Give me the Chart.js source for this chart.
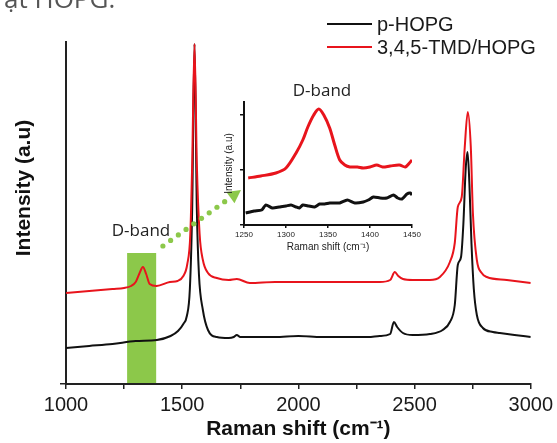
<!DOCTYPE html>
<html><head><meta charset="utf-8">
<script src="https://cdn.jsdelivr.net/npm/chart.js@4.4.0/dist/chart.umd.min.js"></script>
<style>
html,body{margin:0;padding:0;background:#fff;}
#wrap{position:relative;width:557px;height:443px;overflow:hidden;background:#fff;}
#main{position:absolute;left:0;top:0;}
#inset{position:absolute;left:215px;top:70px;}
</style></head><body>
<div id="wrap"><canvas id="main" width="557" height="443"></canvas><canvas id="inset" width="215" height="190"></canvas></div>
<script>
// ---------- main spectrum data ----------
const pHopgShift = [1000,1100,1200,1300,1391,1450,1482,1505,1520,1533,1543,1553,1563,1572,1589,1611,1649,1700,1722,1735,1750,1834,1900,2000,2100,2200,2300,2350,2395,2411,2425,2450,2492,2566,2621,2652,2673,2686,2700,2710,2720,2728,2736,2745,2755,2768,2794,2837,2867,2930,3000];
const pHopgIntensity = [36,38,40,43,44,48,53,60,68,95,175,340,175,110,74,54,47,46,47,49,47,47,47,48,47,47,47,48,50,62,57,51,49,50,54,62,79,119,127,160,215,232,200,140,95,69,56,52,51,49,47];
const tmdShift = [1000,1100,1200,1250,1280,1300,1315,1331,1345,1360,1390,1447,1480,1505,1522,1535,1543,1553,1563,1575,1589,1611,1649,1700,1735,1791,1900,2000,2100,2200,2300,2350,2395,2415,2430,2450,2492,2566,2609,2652,2673,2686,2703,2716,2729,2742,2751,2768,2789,2811,2897,3000];
const tmdIntensity = [91,93,95,96,98,102,110,117,110,100,98,102,103,108,120,150,220,340,220,150,124,111,106,104,105,101,102,102,102,102,102,102,104,112,108,105,104,104,107,122,141,177,187,237,272,237,171,124,111,107,104,101];
const xTickValues = [1000,1250,1500,1750,2000,2250,2500,2750,3000];
const xTickLabels = [1000,1500,2000,2500,3000];
const yTickValues = [0];
const seriesLabels = ['p-HOPG','3,4,5-TMD/HOPG'];
const dBandRange = [1263,1388];
const dBandBoxTop = 131;
const arrowStart = [1417,138];
const arrowEnd = [1753,194];

// ---------- inset (D-band zoom) data ----------
const insetBlackShift = [1252,1262,1271,1276,1284,1292,1300,1306,1312,1316,1320,1327,1334,1340,1346,1352,1358,1364,1373,1382,1392,1398,1404,1412,1420,1428,1433,1438,1444,1448,1450];
const insetBlackIntensity = [12,14,15,20,17,18,19,20,18,17,20,19,18,21,21,22,22,22,25,22,23,25,28,27,27,30,27,26,31,32,30];
const insetRedShift = [1255,1270,1288,1300,1312,1320,1326,1333,1339,1345,1352,1358,1364,1370,1376,1385,1392,1400,1408,1415,1424,1435,1442,1447,1450];
const insetRedIntensity = [47,49,52,57,72,85,98,110,116,110,97,80,65,60,58,58,57,58,60,58,59,60,58,62,65];
const insetXTicks = [1250,1300,1350,1400,1450];
const insetYTicks = [0,55,110];

const BLACK = '#111111', RED = '#e8141c', GREEN = '#8cc84a';
const zip = (xs, ys) => xs.map((v, i) => ({x: v, y: ys[i]}));

const mainDecor = {
  id: 'mainDecor',
  beforeDatasetsDraw(chart) {
    const {ctx, scales: {x, y}} = chart;
    const l = x.getPixelForValue(dBandRange[0]), r = x.getPixelForValue(dBandRange[1]);
    const t = y.getPixelForValue(dBandBoxTop), b = y.getPixelForValue(0) - 1;
    ctx.save();
    ctx.fillStyle = GREEN;
    ctx.fillRect(l, t, r - l, b - t);
    ctx.restore();
  },
  afterDatasetsDraw(chart) {
    const {ctx, scales: {x, y}} = chart;
    ctx.save();
    // dotted arrow
    const p0 = [x.getPixelForValue(arrowStart[0]), y.getPixelForValue(arrowStart[1])];
    const p1 = [x.getPixelForValue(arrowEnd[0]), y.getPixelForValue(arrowEnd[1])];
    const dx = p1[0] - p0[0], dy = p1[1] - p0[1], len = Math.hypot(dx, dy);
    const ux = dx / len, uy = dy / len, headLen = 13, headW = 7;
    ctx.fillStyle = GREEN;
    for (let d = 0; d <= len - headLen - 3; d += 9.5) {
      ctx.beginPath(); ctx.arc(p0[0] + ux * d, p0[1] + uy * d, 2.6, 0, Math.PI * 2); ctx.fill();
    }
    const bx = p1[0] - ux * headLen, by = p1[1] - uy * headLen;
    ctx.beginPath();
    ctx.moveTo(p1[0], p1[1]);
    ctx.lineTo(bx - uy * headW, by + ux * headW);
    ctx.lineTo(bx + uy * headW, by - ux * headW);
    ctx.closePath(); ctx.fill();
    // D-band label
    ctx.fillStyle = '#222';
    ctx.font = '17px "Open Sans", sans-serif';
    ctx.textAlign = 'center'; ctx.textBaseline = 'middle';
    ctx.fillText('D-band', 141, 231);
    // y axis title
    ctx.save();
    ctx.translate(24, 188); ctx.rotate(-Math.PI / 2);
    ctx.font = 'bold 21px "Liberation Sans", Arial, sans-serif';
    ctx.fillStyle = '#111';
    ctx.fillText('Intensity (a.u)', 0, 0);
    ctx.restore();
    // legend
    const legendItems = [{label: seriesLabels[0], color: BLACK, y: 24}, {label: seriesLabels[1], color: RED, y: 47}];
    ctx.font = '20px "Liberation Sans", Arial, sans-serif';
    ctx.textAlign = 'left';
    legendItems.forEach(it => {
      ctx.strokeStyle = it.color; ctx.lineWidth = 2;
      ctx.beginPath(); ctx.moveTo(327, it.y); ctx.lineTo(372, it.y); ctx.stroke();
      ctx.fillStyle = '#1a1a1a';
      ctx.fillText(it.label, 377, it.y + 1);
    });
    // cut-off caption text at the top
    ctx.font = '26px "Open Sans", sans-serif';
    ctx.fillStyle = '#555';
    ctx.textBaseline = 'alphabetic';
    ctx.fillText('ật HOPG.', 4, 8);
    ctx.restore();
  }
};

new Chart(document.getElementById('main'), {
  type: 'line',
  data: {
    datasets: [
      {label: seriesLabels[1], data: zip(tmdShift, tmdIntensity), borderColor: RED, borderWidth: 2, pointRadius: 0, cubicInterpolationMode: 'monotone', fill: false},
      {label: seriesLabels[0], data: zip(pHopgShift, pHopgIntensity), borderColor: BLACK, borderWidth: 2, pointRadius: 0, cubicInterpolationMode: 'monotone', fill: false}
    ]
  },
  options: {
    responsive: false, animation: false, devicePixelRatio: 1,
    layout: {padding: {left: 0, top: 42, right: 26, bottom: 0}},
    plugins: {legend: {display: false}, tooltip: {enabled: false}},
    scales: {
      x: {
        type: 'linear', min: 1000, max: 3000,
        afterBuildTicks: s => { s.ticks = xTickValues.map(v => ({value: v})); },
        afterFit: s => { s.height = 59; },
        ticks: {autoSkip: false, maxRotation: 0, padding: 4, color: '#1a1a1a',
          font: {family: '"Liberation Sans", Arial, sans-serif', size: 20},
          callback: v => xTickLabels.includes(v) ? String(v) : ''},
        grid: {drawOnChartArea: false, drawTicks: true, tickLength: 5, color: '#222', lineWidth: 1.5},
        border: {display: true, color: '#222', width: 2},
        title: {display: true, text: 'Raman shift (cm⁻¹)', color: '#111',
          font: {family: '"Liberation Sans", Arial, sans-serif', size: 21, weight: 'bold'}, padding: {top: 0, bottom: 1}}
      },
      y: {
        type: 'linear', min: 0, max: 342,
        afterBuildTicks: s => { s.ticks = yTickValues.map(v => ({value: v})); },
        afterFit: s => { s.width = 66; },
        ticks: {display: false},
        grid: {drawOnChartArea: false, drawTicks: true, tickLength: 6, color: '#222', lineWidth: 1.5},
        border: {display: true, color: '#222', width: 2}
      }
    }
  },
  plugins: [mainDecor]
});

const insetDecor = {
  id: 'insetDecor',
  afterDatasetsDraw(chart) {
    const {ctx} = chart;
    ctx.save();
    ctx.fillStyle = '#222';
    ctx.font = '17px "Open Sans", sans-serif';
    ctx.textAlign = 'center'; ctx.textBaseline = 'middle';
    ctx.fillText('D-band', 107, 21);
    ctx.restore();
  }
};

new Chart(document.getElementById('inset'), {
  type: 'line',
  data: {
    datasets: [
      {label: seriesLabels[1], data: zip(insetRedShift, insetRedIntensity), borderColor: RED, borderWidth: 3, pointRadius: 0, tension: 0.3, fill: false},
      {label: seriesLabels[0], data: zip(insetBlackShift, insetBlackIntensity), borderColor: BLACK, borderWidth: 3, pointRadius: 0, tension: 0.2, fill: false}
    ]
  },
  options: {
    responsive: false, animation: false, devicePixelRatio: 1,
    layout: {padding: {left: 0, top: 32, right: 18, bottom: 0}},
    plugins: {legend: {display: false}, tooltip: {enabled: false}},
    scales: {
      x: {
        type: 'linear', min: 1250, max: 1450,
        afterBuildTicks: s => { s.ticks = insetXTicks.map(v => ({value: v})); },
        afterFit: s => { s.height = 35; },
        ticks: {autoSkip: false, maxRotation: 0, padding: 2, color: '#222',
          font: {family: '"Liberation Sans", Arial, sans-serif', size: 8},
          callback: v => String(v)},
        grid: {drawOnChartArea: false, drawTicks: true, tickLength: 3, color: '#111', lineWidth: 1.5},
        border: {display: true, color: '#111', width: 2},
        title: {display: true, text: 'Raman shift (cm⁻¹)', color: '#222',
          font: {family: '"Liberation Sans", Arial, sans-serif', size: 10}, padding: {top: 0, bottom: 7}}
      },
      y: {
        type: 'linear', min: 0, max: 123,
        afterBuildTicks: s => { s.ticks = insetYTicks.map(v => ({value: v})); },
        afterFit: s => { s.width = 29; },
        ticks: {display: false},
        grid: {drawOnChartArea: false, drawTicks: true, tickLength: 4, color: '#111', lineWidth: 1.5},
        border: {display: true, color: '#111', width: 2},
        title: {display: true, text: 'Intensity (a.u)', color: '#222',
          font: {family: '"Liberation Sans", Arial, sans-serif', size: 10}, padding: {top: 8, bottom: 0}}
      }
    }
  },
  plugins: [insetDecor]
});
</script>
</body></html>
